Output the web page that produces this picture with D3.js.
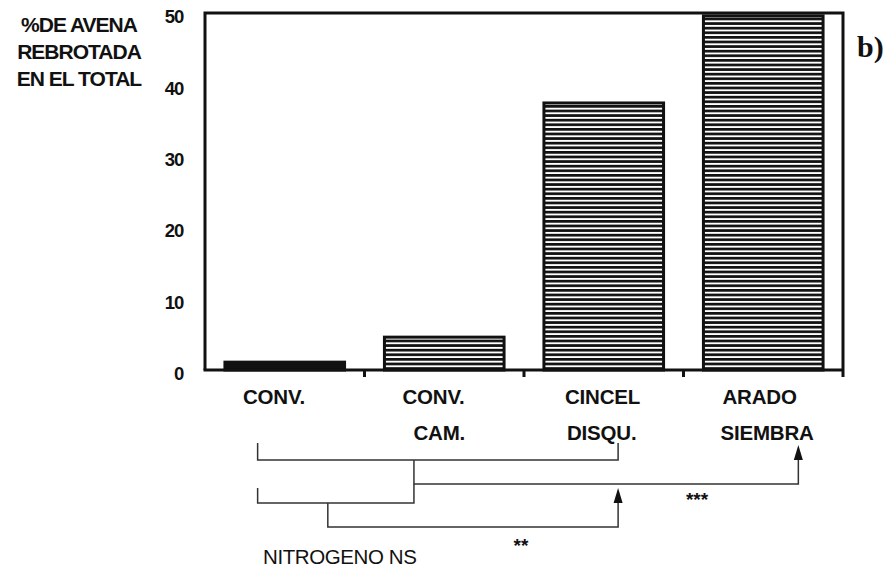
<!DOCTYPE html>
<meta charset="utf-8">
<title>Avena rebrotada</title>
<body style="margin:0;background:#fff">
<style>
  text { font-family: "Liberation Sans", Arial, sans-serif; fill: #111; }
  .cat { font-size: 20.5px; font-weight: bold; letter-spacing: -0.2px; }
  .tick text { font-size: 18.5px; font-weight: bold; letter-spacing: -1.2px; }
</style>
<div id="chart"></div>
<script src="https://d3js.org/d3.v7.min.js"></script>
<script>

// datos
var tratamientos = ["CONV.", "CONV. CAM.", "CINCEL DISQU.", "ARADO SIEMBRA"];
var etiquetas1 = ["CONV.", "CONV.", "CINCEL", "ARADO"];
var etiquetas2 = ["", "CAM.", "DISQU.", "SIEMBRA"];
var rebrote = [1.1, 4.6, 37.4, 49.6];
var yTicks = [0, 10, 20, 30, 40, 50];
var tituloY = ["%DE AVENA", "REBROTADA", "EN EL TOTAL"];

var W = 895, H = 571;
var margin = {top: 13, right: 52, bottom: 201, left: 205},
    width = W - margin.left - margin.right,
    height = H - margin.top - margin.bottom;

var svg = d3.select("#chart").append("svg")
    .attr("width", W).attr("height", H);

// trama de lineas horizontales
var defs = svg.append("defs");
var pat = defs.append("pattern")
    .attr("id", "rayado")
    .attr("patternUnits", "userSpaceOnUse")
    .attr("width", 10).attr("height", 4.6);
pat.append("rect").attr("width", 10).attr("height", 4.6).attr("fill", "#fff");
pat.append("rect").attr("width", 10).attr("height", 2.7).attr("fill", "#111");

var g = svg.append("g")
    .attr("transform", "translate(" + margin.left + "," + margin.top + ")");

var x = d3.scaleBand()
    .domain(tratamientos)
    .range([0, width])
    .paddingInner(0.25)
    .paddingOuter(0.125);

var xb = d3.scaleBand().domain(tratamientos).range([0, width]); // limites de bandas

var y = d3.scaleLinear()
    .domain([0, 50])
    .range([height, 0]);

// barras
g.selectAll("rect.bar")
  .data(rebrote)
  .enter().append("rect")
    .attr("class", "bar")
    .attr("x", function(d, i) { return x(tratamientos[i]); })
    .attr("y", function(d) { return y(d); })
    .attr("width", x.bandwidth())
    .attr("height", function(d) { return height - y(d); })
    .attr("fill", function(d) { return d < 2 ? "#111" : "url(#rayado)"; })
    .attr("stroke", "#111")
    .attr("stroke-width", 3);

// marco
g.append("path")
    .attr("d", "M0," + height + "V0H" + width + "V" + (height + 7))
    .attr("fill", "none").attr("stroke", "#111").attr("stroke-width", 3);
g.append("line")
    .attr("x1", -1.5).attr("x2", width).attr("y1", height).attr("y2", height)
    .attr("stroke", "#111").attr("stroke-width", 3);
g.selectAll("line.sep")
  .data(tratamientos.slice(1))
  .enter().append("line")
    .attr("x1", function(d) { return xb(d); })
    .attr("x2", function(d) { return xb(d); })
    .attr("y1", height).attr("y2", height + 7)
    .attr("stroke", "#111").attr("stroke-width", 3);

// eje y
var ay = g.append("g")
    .call(d3.axisLeft(y).tickValues(yTicks).tickSize(0).tickPadding(22));
ay.select(".domain").remove();
ay.selectAll("text").attr("dy", "0.36em").attr("y", 3);

// etiquetas categorias
var dx1 = [38, 38, 41, 39];
var dx2 = [0, 49, 43, 37];
var cat = g.selectAll("g.cat")
  .data(tratamientos)
  .enter().append("g")
    .attr("class", "cat")
    .attr("transform", function(d) { return "translate(" + xb(d) + "," + height + ")"; });
cat.append("text")
    .attr("x", function(d, i) { return dx1[i]; })
    .attr("y", 34)
    .text(function(d, i) { return etiquetas1[i]; });
cat.append("text")
    .attr("x", function(d, i) { return dx2[i]; })
    .attr("y", 70)
    .text(function(d, i) { return etiquetas2[i]; });

// titulo eje y
svg.append("g").selectAll("text")
  .data(tituloY)
  .enter().append("text")
    .attr("x", 79)
    .attr("y", function(d, i) { return 32 + i * 27; })
    .attr("text-anchor", "middle")
    .style("font-size", "21px")
    .style("font-weight", "bold")
    .style("letter-spacing", "-1px")
    .text(function(d) { return d; });

svg.append("text")
    .attr("x", 857).attr("y", 57)
    .style("font-family", "'Liberation Serif', 'Times New Roman', serif")
    .style("font-size", "30px")
    .style("font-weight", "bold")
    .text("b)");

// comparaciones (contrastes)
var px = function(cat, f) { return margin.left + xb(cat) + f * xb.bandwidth(); };
var ln = d3.line();
var trazo = svg.append("g")
    .attr("fill", "none").attr("stroke", "#333").attr("stroke-width", 1.5);

var a = px(tratamientos[0], 0.33), b = px(tratamientos[1], 0.31),
    c = px(tratamientos[2], 0.59), e = px(tratamientos[3], 0.72),
    m = px(tratamientos[0], 0.77);

trazo.append("path").attr("d", ln([[a, 443], [a, 460], [c, 460], [c, 443]]));
trazo.append("path").attr("d", ln([[b, 460], [b, 484], [e, 484], [e, 455]]));
trazo.append("path").attr("d", ln([[a, 488], [a, 503], [b, 503], [b, 484]]));
trazo.append("path").attr("d", ln([[m, 503], [m, 527], [c, 527], [c, 498]]));

var flecha = function(xx, yy) {
  svg.append("path")
    .attr("d", "M" + xx + "," + yy + "l-4.5,15h9z")
    .attr("fill", "#111");
};
flecha(e, 445);
flecha(c, 488);

svg.append("text").attr("x", 697).attr("y", 506).attr("text-anchor", "middle")
    .style("font-size", "19px").style("font-weight", "bold").text("***");
svg.append("text").attr("x", 521).attr("y", 552).attr("text-anchor", "middle")
    .style("font-size", "19px").style("font-weight", "bold").text("**");
svg.append("text").attr("x", 263).attr("y", 564)
    .style("font-size", "20.5px").style("letter-spacing", "-0.4px").text("NITROGENO NS");

</script>
